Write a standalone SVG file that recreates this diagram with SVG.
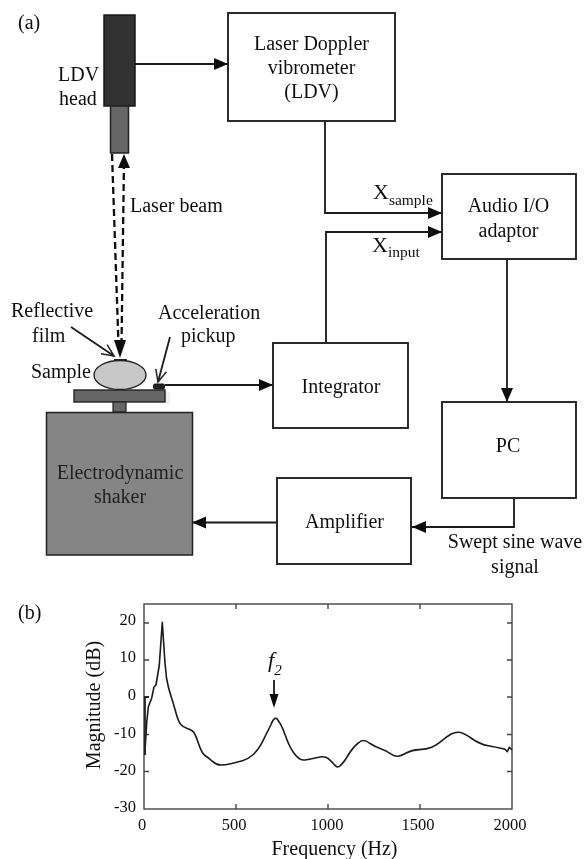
<svg xmlns="http://www.w3.org/2000/svg" width="584" height="859" viewBox="0 0 584 859">
<defs>
<marker id="ah" markerUnits="userSpaceOnUse" markerWidth="15" markerHeight="14" refX="14" refY="6" orient="auto"><path d="M0 0L14 6L0 12Z" fill="#111"/></marker>
<marker id="open" markerUnits="userSpaceOnUse" markerWidth="16" markerHeight="14" refX="13" refY="6" orient="auto"><path d="M1 0.500L13 6L1 11.500" fill="none" stroke="#222" stroke-width="1.500"/></marker>
<filter id="soft" x="-5%" y="-5%" width="110%" height="110%"><feGaussianBlur stdDeviation="0.45"/></filter>
</defs>
<style>
text{font-family:"Liberation Serif","Times New Roman",serif;font-size:20px;fill:#111}
.m{text-anchor:middle}
.e{text-anchor:end}
.t{font-size:16.5px}
.box{fill:#fff;stroke:#222;stroke-width:1.900}
.c{fill:none;stroke:#1a1a1a;stroke-width:1.800}
.d{fill:none;stroke:#111;stroke-width:2.300;stroke-dasharray:7 4}
.ax{fill:none;stroke:#444;stroke-width:1.400}
.sub{font-size:15.500px}
</style>
<rect width="584" height="859" fill="#fff"/>
<g filter="url(#soft)">
<g id="connectors">
<path class="c" marker-end="url(#ah)" d="M135 64H228"/>
<path class="c" marker-end="url(#ah)" d="M325 121V213H442"/>
<path class="c" marker-end="url(#ah)" d="M326 343V232H442"/>
<path class="c" marker-end="url(#ah)" d="M507 259V402"/>
<path class="c" marker-end="url(#ah)" d="M514 498V527H412"/>
<path class="c" marker-end="url(#ah)" d="M277 522.500H192"/>
<path class="c" marker-end="url(#ah)" d="M165 385H273"/>
<path class="d" d="M112 154L118.500 345"/>
<path class="d" d="M121.500 345L124 160"/>
<path d="M124 154L130 168H118Z" fill="#111"/>
<path d="M120 358L114 340H126Z" fill="#111"/>
<path class="c" marker-end="url(#open)" d="M71 327L114 356"/>
<path class="c" marker-end="url(#open)" d="M170 337L158 382"/>
</g>
<g id="panel-a-label"><text x="18" y="29">(a)</text></g>
<g id="ldv-head">
<rect x="104" y="15" width="31" height="91" fill="#333" stroke="#1a1a1a" stroke-width="1.500"/>
<rect x="110.500" y="106" width="18" height="47" fill="#666" stroke="#222" stroke-width="1.500"/>
<text x="58" y="81">LDV</text>
<text x="59" y="105">head</text>
</g>
<g id="ldv">
<rect class="box" x="228" y="13" width="167" height="108"/>
<text class="m" x="311.500" y="50">Laser Doppler</text>
<text class="m" x="311.500" y="74">vibrometer</text>
<text class="m" x="311.500" y="98">(LDV)</text>
</g>
<g id="laser-beam-label"><text x="130" y="212">Laser beam</text></g>
<g id="audio-adaptor">
<rect class="box" x="442" y="174" width="134" height="85"/>
<text class="m" x="508.500" y="212">Audio I/O</text>
<text class="m" x="508.500" y="237">adaptor</text>
</g>
<g id="x-sample"><text x="373" y="199" style="font-size:22px">X<tspan class="sub" dy="6">sample</tspan></text></g>
<g id="x-input"><text x="372" y="252" style="font-size:22px">X<tspan class="sub" dy="5">input</tspan></text></g>
<g id="integrator">
<rect class="box" x="273" y="343" width="135" height="85"/>
<text class="m" x="341" y="393">Integrator</text>
</g>
<g id="pc">
<rect class="box" x="442" y="402" width="134" height="96"/>
<text class="m" x="508" y="452">PC</text>
</g>
<g id="amplifier">
<rect class="box" x="277" y="478" width="134" height="86"/>
<text class="m" x="344.500" y="528">Amplifier</text>
</g>
<g id="sweep-label">
<text class="m" x="515" y="548">Swept sine wave</text>
<text class="m" x="515" y="573">signal</text>
</g>
<g id="reflective-film">
<text x="11" y="317">Reflective</text>
<text x="32" y="342">film</text>
<rect x="114" y="359" width="13" height="3" fill="#222"/>
</g>
<g id="sample">
<text x="31" y="378">Sample</text>
<ellipse cx="120" cy="375" rx="26" ry="14.500" fill="#c8c8c8" stroke="#222" stroke-width="1.400"/>
</g>
<g id="acceleration-pickup">
<text x="158" y="319">Acceleration</text>
<text x="181" y="342">pickup</text>
<rect x="153.500" y="384" width="11" height="5" rx="1.500" fill="#222" stroke="#111"/>
</g>
<g id="shaker">
<rect x="165" y="392" width="5" height="12" fill="#f0f0f0"/>
<rect x="74" y="390" width="91" height="12" fill="#666" stroke="#222" stroke-width="1.400"/>
<rect x="113" y="402" width="13" height="10" fill="#666" stroke="#222" stroke-width="1.200"/>
<rect x="46.500" y="412.500" width="146" height="142.500" fill="#858585" stroke="#222" stroke-width="1.500"/>
<text class="m" x="120" y="479" style="fill:#222">Electrodynamic</text>
<text class="m" x="120" y="503" style="fill:#222">shaker</text>
</g>
<g id="panel-b-label"><text x="18" y="619">(b)</text></g>
<g id="plot">
<rect class="ax" x="144" y="604" width="368" height="205"/>
<path class="ax" d="M144 623H149M144 660H149M144 697H149M144 734.500H149M144 771.500H149M512 623H507M512 660H507M512 697H507M512 734.500H507M512 771.500H507M236 604V609M328 604V609M420 604V609M236 809V804M328 809V804M420 809V804"/>
<text class="t e" x="136" y="625">20</text>
<text class="t e" x="136" y="662">10</text>
<text class="t e" x="136" y="700">0</text>
<text class="t e" x="136" y="738">-10</text>
<text class="t e" x="136" y="775">-20</text>
<text class="t e" x="136" y="812">-30</text>
<text class="t m" x="142" y="830">0</text>
<text class="t m" x="234" y="830">500</text>
<text class="t m" x="327" y="830">1000</text>
<text class="t m" x="418" y="830">1500</text>
<text class="t m" x="510" y="830">2000</text>
<text class="m" x="334.500" y="855">Frequency (Hz)</text>
<text class="m" transform="translate(100 705) rotate(-90)">Magnitude (dB)</text>
<path fill="none" stroke="#1a1a1a" stroke-width="1.600" stroke-linejoin="round" d="M144.700 755L146.700 723L148.300 707L151.700 698L154 687L156 685L159.300 665L162.300 622.300L165 663L166.500 678Q168.300 688 170.800 695.500Q173.300 703 175.800 712.300Q178.300 721.700 180.800 724.500Q183.300 727.300 186.700 728.300Q190 729.300 192.500 731Q195 732.700 198.300 743Q201.700 753.300 205 755.500Q208.300 757.700 212.500 761.300Q216.700 765 220.800 765Q225 765 230.800 763.700Q236.700 762.300 242.500 760.700Q248.300 759 253.300 754.500Q258.300 750 262.500 741.700Q266.700 733.300 270.800 725Q275 714 278.300 720.800Q281.700 725 285.800 736.700Q290 748.300 295 754.500Q300 760.700 305 760Q310 759.300 317.500 757.500Q325 755.700 328.300 758.700Q331.700 761.700 334.500 764.700Q337.300 768.700 340.300 765.500Q343.300 763.300 348.300 755Q353.300 746.700 358.300 743Q363.300 738 369.200 743Q375 746.700 380.800 748.800Q386.700 751 390.800 753.800Q395 756.700 398.300 756.200Q401.700 755.700 406.700 752.800Q411.700 750 419.200 749.600Q426.700 749.300 431.700 747.200Q436.700 745 441.700 740.800Q446.700 736.700 450.800 734.300Q455 732 459.200 732.300Q463.300 732.700 471.700 738.500Q480 744.300 488.300 745.800Q496.700 747.300 500.800 748.300L505 749.300L507.300 751.700L509.300 747.300L512 750"/>
<path fill="none" stroke="#222" stroke-width="1.800" d="M145 755V697H149"/>
<text x="268" y="667" style="font-size:22px;font-style:italic">f<tspan dy="8" style="font-size:15px">2</tspan></text>
<path class="c" d="M274 680V698"/>
<path d="M274 708L269.500 694H278.500Z" fill="#111"/>
</g>
</g>
</svg>
